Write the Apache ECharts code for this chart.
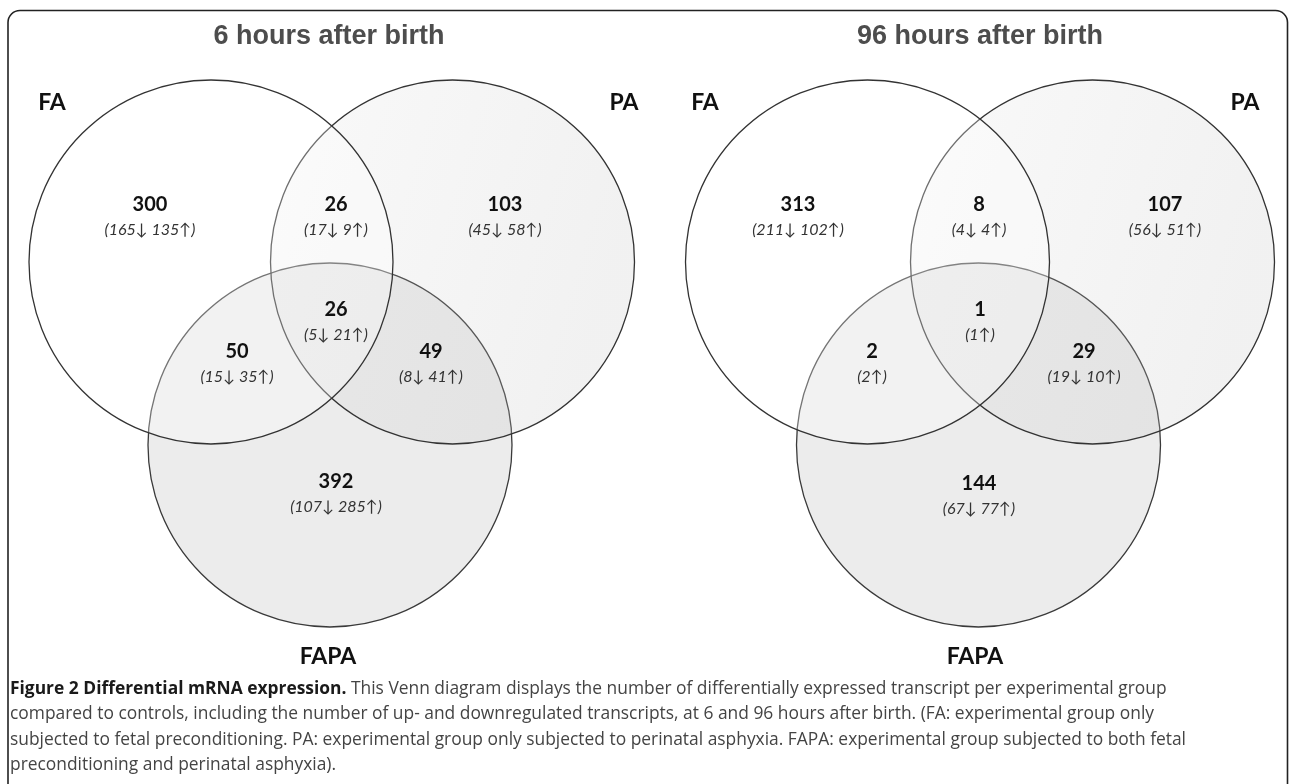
<!DOCTYPE html>
<html>
<head>
<meta charset="utf-8">
<script src="https://cdn.jsdelivr.net/npm/echarts@6/dist/echarts.min.js"></script>
<style>
  html, body { margin: 0; padding: 0; background: #fff; }
  #chart { width: 1290px; height: 784px; }
</style>
</head>
<body>
<div id="chart"></div>
<script>
// data
const panelTitles = ['6 hours after birth', '96 hours after birth'];
const setNames = ['FA', 'PA', 'FAPA'];
// regions: FA only, FA∩PA, PA only, all three, FA∩FAPA, PA∩FAPA, FAPA only
const regionNames = ['FA', 'FA∩PA', 'PA', 'FA∩PA∩FAPA', 'FA∩FAPA', 'PA∩FAPA', 'FAPA'];
const total6h = [300, 26, 103, 26, 50, 49, 392];
const down6h = [165, 17, 45, 5, 15, 8, 107];
const up6h = [135, 9, 58, 21, 35, 41, 285];
const total96h = [313, 8, 107, 1, 2, 29, 144];
const down96h = [211, 4, 56, 0, 0, 19, 67];
const up96h = [102, 4, 51, 1, 2, 10, 77];

const captionBold = 'Figure 2 Differential mRNA expression.';
const captionLines = [
  ' This Venn diagram displays the number of differentially expressed transcript per experimental group',
  'compared to controls, including the number of up- and downregulated transcripts, at 6 and 96 hours after birth. (FA: experimental group only',
  'subjected to fetal preconditioning. PA: experimental group only subjected to perinatal asphyxia. FAPA: experimental group subjected to both fetal',
  'preconditioning and perinatal asphyxia).'
];

// layout (chart units = pixels of the hidden axes)
const layouts = [
  {
    circles: [[211, 262], [452.5, 262], [330, 445]],
    setLabels: [[52, 103], [624, 103], [328, 657]],
    regionPos: [[150, 205], [336, 205], [505, 205], [336, 310], [237, 352], [431, 352], [336, 482]],
    title: [324, 36]
  },
  {
    circles: [[867.5, 262], [1092.5, 262], [978.5, 445]],
    setLabels: [[705, 103], [1245, 103], [975, 657]],
    regionPos: [[798, 205], [979, 205], [1165, 205], [980, 310], [872, 352], [1084, 352], [979, 484]],
    title: [975, 36]
  }
];
const radius = 182;

const circleStyles = [
  { fill: 'rgba(255,255,255,0.3)', stroke: '#333', z2: 3 },
  {
    fill: {
      type: 'linear', x: 0, y: 0, x2: 1, y2: 0.3,
      colorStops: [
        { offset: 0, color: 'rgba(200,200,200,0.10)' },
        { offset: 1, color: 'rgba(200,200,200,0.25)' }
      ]
    },
    stroke: '#333', z2: 2
  },
  { fill: '#ececec', stroke: '#3a3a3a', z2: 1 }
];

const fontNum = 'Lato, "DejaVu Sans", sans-serif';

const circleData = [];
const setLabelData = [];
const regionData = [];
const totals = [total6h, total96h];
const downs = [down6h, down96h];
const ups = [up6h, up96h];

layouts.forEach((lay, p) => {
  lay.circles.forEach((c, i) => circleData.push([c[0], c[1], radius, i]));
  lay.setLabels.forEach((c, i) => setLabelData.push([c[0], c[1], setNames[i]]));
  lay.regionPos.forEach((c, i) => {
    regionData.push([c[0], c[1], totals[p][i], downs[p][i], ups[p][i]]);
  });
});

function breakdown(d, u) {
  const parts = [];
  if (d > 0) parts.push(d + '\u2193');
  if (u > 0) parts.push(u + '\u2191');
  return '(' + parts.join(' ') + ')';
}

const chart = echarts.init(document.getElementById('chart'));

const option = {
  backgroundColor: '#fff',
  animation: false,
  grid: { left: 0, right: 0, top: 0, bottom: 0 },
  xAxis: { type: 'value', min: 0, max: 1290, show: false },
  yAxis: { type: 'value', min: 0, max: 784, inverse: true, show: false },
  title: panelTitles.map((t, p) => ({
    text: t,
    left: layouts[p].title[0],
    top: layouts[p].title[1] - 18,
    textAlign: 'center',
    textStyle: {
      fontFamily: '"Liberation Sans", Arial, sans-serif',
      fontWeight: 'bold',
      fontSize: 27,
      color: '#4d4d4d'
    }
  })).concat([{
    text: '{b|' + captionBold + '}' + captionLines.join('\n'),
    left: 5,
    top: 671,
    textStyle: {
      fontFamily: '"Open Sans", sans-serif',
      fontWeight: 'normal',
      fontSize: 17.4,
      color: '#444',
      lineHeight: 25.5,
      rich: {
        b: { fontFamily: '"Open Sans", sans-serif', fontWeight: 'bold', fontSize: 17.4, color: '#1a1a1a', lineHeight: 25.5 }
      }
    }
  }]),
  graphic: [{
    type: 'rect',
    shape: { x: 8, y: 10.5, width: 1279.5, height: 820, r: 12 },
    style: { fill: 'none', stroke: '#222', lineWidth: 1.6 },
    z: 100
  }],
  series: [
    {
      type: 'custom',
      name: 'circles',
      coordinateSystem: 'cartesian2d',
      data: circleData,
      silent: true,
      renderItem: (params, api) => {
        const c = api.coord([api.value(0), api.value(1)]);
        const r = api.size([api.value(2), 0])[0];
        const s = circleStyles[api.value(3)];
        return {
          type: 'circle',
          z2: s.z2,
          shape: { cx: c[0], cy: c[1], r: r },
          style: { fill: s.fill, stroke: s.stroke, lineWidth: 1.3 }
        };
      }
    },
    {
      type: 'custom',
      name: 'regions',
      coordinateSystem: 'cartesian2d',
      data: regionData,
      silent: true,
      z: 5,
      renderItem: (params, api) => {
        const c = api.coord([api.value(0), api.value(1)]);
        const d = regionData[params.dataIndex];
        return {
          type: 'group',
          children: [
            {
              type: 'text',
              style: {
                x: c[0], y: c[1], text: String(d[2]),
                align: 'center', verticalAlign: 'middle',
                font: 'bold 20px ' + fontNum, fill: '#111'
              }
            },
            {
              type: 'text',
              style: {
                x: c[0], y: c[1] + 25, text: breakdown(d[3], d[4]),
                align: 'center', verticalAlign: 'middle',
                font: 'italic 16px ' + fontNum, fill: '#333'
              }
            }
          ]
        };
      }
    },
    {
      type: 'custom',
      name: 'sets',
      coordinateSystem: 'cartesian2d',
      data: setLabelData,
      silent: true,
      z: 5,
      renderItem: (params, api) => {
        const c = api.coord([api.value(0), api.value(1)]);
        return {
          type: 'text',
          style: {
            x: c[0], y: c[1], text: setLabelData[params.dataIndex][2],
            align: 'center', verticalAlign: 'middle',
            font: 'bold 23px ' + fontNum, fill: '#111'
          }
        };
      }
    }
  ]
};

chart.setOption(option);
</script>
</body>
</html>
